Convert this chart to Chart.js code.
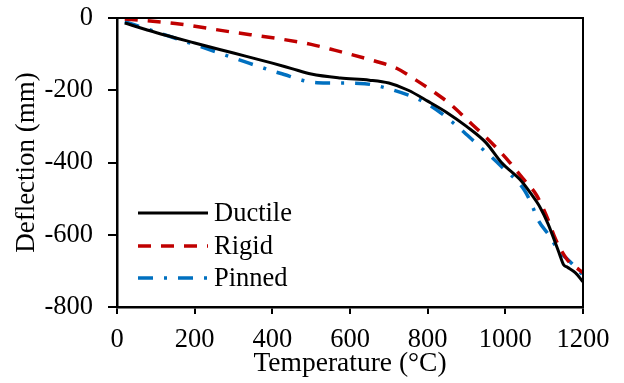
<!DOCTYPE html>
<html>
<head>
<meta charset="utf-8">
<script src="https://cdn.jsdelivr.net/npm/chart.js@4.4.1/dist/chart.umd.min.js"></script>
<style>
  html, body { margin: 0; padding: 0; background: #ffffff; }
  #wrap { width: 624px; height: 383px; }
</style>
</head>
<body>
<div id="wrap"><canvas id="deflChart" width="624" height="383"></canvas></div>
<script>
// Deflection vs temperature

const seriesNames = ["Ductile", "Rigid", "Pinned"];

const ductileTemp = [20, 100, 200, 300, 400, 450, 500, 575, 650, 700, 750, 800, 850, 900, 950, 990, 1040, 1065, 1090, 1110, 1140, 1150, 1160, 1180, 1200];
const ductileDefl = [-14, -40, -69, -97, -125, -140, -155, -166, -172, -180, -200, -230, -262, -300, -345, -400, -450, -485, -525, -570, -655, -683, -690, -705, -730];

const rigidTemp = [20, 150, 290, 420, 500, 560, 670, 720, 770, 815, 860, 900, 940, 975, 1010, 1045, 1080, 1105, 1130, 1160, 1190, 1200];
const rigidDefl = [-3, -15, -38, -58, -73, -89, -121, -139, -172, -204, -240, -280, -320, -357, -398, -444, -490, -545, -614, -670, -697, -705];

const pinnedTemp = [20, 110, 215, 315, 420, 515, 625, 710, 800, 870, 925, 990, 1050, 1068, 1085, 1115, 1136, 1166, 1200];
const pinnedDefl = [-10, -42, -79, -116, -153, -179, -181, -199, -238, -294, -347, -411, -478, -517, -560, -605, -642, -674, -712];

const xTicks = [0, 200, 400, 600, 800, 1000, 1200];
const yTicks = [0, -200, -400, -600, -800];

const FONT = "'Liberation Serif', 'Times New Roman', serif";

function toPoints(xs, ys) {
    return xs.map((x, i) => ({ x: x, y: ys[i] }));
}

// top + right frame lines and the legend inside the plot
const framePlugin = {
    id: 'frame',
    afterDraw(chart) {
        const { ctx, chartArea } = chart;
        ctx.save();
        ctx.strokeStyle = '#000000';
        ctx.lineWidth = 2;
        ctx.beginPath();
        ctx.moveTo(chartArea.left, chartArea.top);
        ctx.lineTo(chartArea.right, chartArea.top);
        ctx.lineTo(chartArea.right, chartArea.bottom);
        ctx.stroke();

        // legend
        const rows = [213, 246, 278];
        ctx.font = '26.5px ' + FONT;
        ctx.textBaseline = 'middle';
        ctx.fillStyle = '#000000';
        chart.data.datasets.forEach((ds, i) => {
            ctx.strokeStyle = ds.borderColor;
            ctx.lineWidth = ds.borderWidth;
            ctx.setLineDash(ds.borderDash || []);
            ctx.beginPath();
            ctx.moveTo(138, rows[i]);
            ctx.lineTo(208, rows[i]);
            ctx.stroke();
            ctx.setLineDash([]);
            ctx.fillText(ds.label, 214, rows[i] + 1);
        });
        ctx.restore();
    }
};

const ctx = document.getElementById('deflChart');

new Chart(ctx, {
    type: 'line',
    data: {
        datasets: [
            {
                label: seriesNames[0],
                data: toPoints(ductileTemp, ductileDefl),
                borderColor: '#000000',
                borderWidth: 3,
                pointRadius: 0,
                cubicInterpolationMode: 'monotone'
            },
            {
                label: seriesNames[1],
                data: toPoints(rigidTemp, rigidDefl),
                borderColor: '#C00000',
                borderWidth: 3.5,
                borderDash: [13, 10],
                pointRadius: 0,
                cubicInterpolationMode: 'monotone'
            },
            {
                label: seriesNames[2],
                data: toPoints(pinnedTemp, pinnedDefl),
                borderColor: '#0070C0',
                borderWidth: 3.5,
                borderDash: [15, 11, 3, 11],
                pointRadius: 0,
                cubicInterpolationMode: 'monotone'
            }
        ]
    },
    options: {
        responsive: false,
        animation: false,
        devicePixelRatio: 1,
        layout: { padding: { left: 0, top: 18, right: 41, bottom: 0 } },
        plugins: {
            legend: { display: false },
            tooltip: { enabled: false }
        },
        scales: {
            x: {
                type: 'linear',
                min: 0,
                max: 1200,
                afterBuildTicks: (scale) => { scale.ticks = xTicks.map(v => ({ value: v })); },
                afterFit: (scale) => {
                    scale.height = 76;
                    scale.paddingLeft = 0;
                    scale.paddingRight = 0;
                },
                border: { display: true, color: '#000000', width: 2.5 },
                grid: { drawOnChartArea: false, drawTicks: true, tickLength: 7, color: '#000000', lineWidth: 2 },
                ticks: {
                    color: '#000000', padding: 10, maxRotation: 0,
                    font: { family: FONT, size: 26.5 },
                    callback: (v) => String(v)
                },
                title: {
                    display: true,
                    text: 'Temperature (°C)',
                    color: '#000000',
                    font: { family: FONT, size: 27.5 },
                    padding: { top: 0, bottom: 3 }
                }
            },
            y: {
                type: 'linear',
                min: -800,
                max: 0,
                afterBuildTicks: (scale) => { scale.ticks = yTicks.map(v => ({ value: v })); },
                afterFit: (scale) => {
                    scale.width = 117;
                    scale.paddingTop = 0;
                    scale.paddingBottom = 0;
                },
                border: { display: true, color: '#000000', width: 2.5 },
                grid: { drawOnChartArea: false, drawTicks: true, tickLength: 9, color: '#000000', lineWidth: 2 },
                ticks: {
                    color: '#000000', padding: 15,
                    font: { family: FONT, size: 26.5 },
                    callback: (v) => String(v)
                },
                title: {
                    display: true,
                    text: 'Deflection (mm)',
                    color: '#000000',
                    font: { family: FONT, size: 27 },
                    padding: { top: 11, bottom: 0 }
                }
            }
        }
    },
    plugins: [framePlugin]
});
</script>
</body>
</html>
